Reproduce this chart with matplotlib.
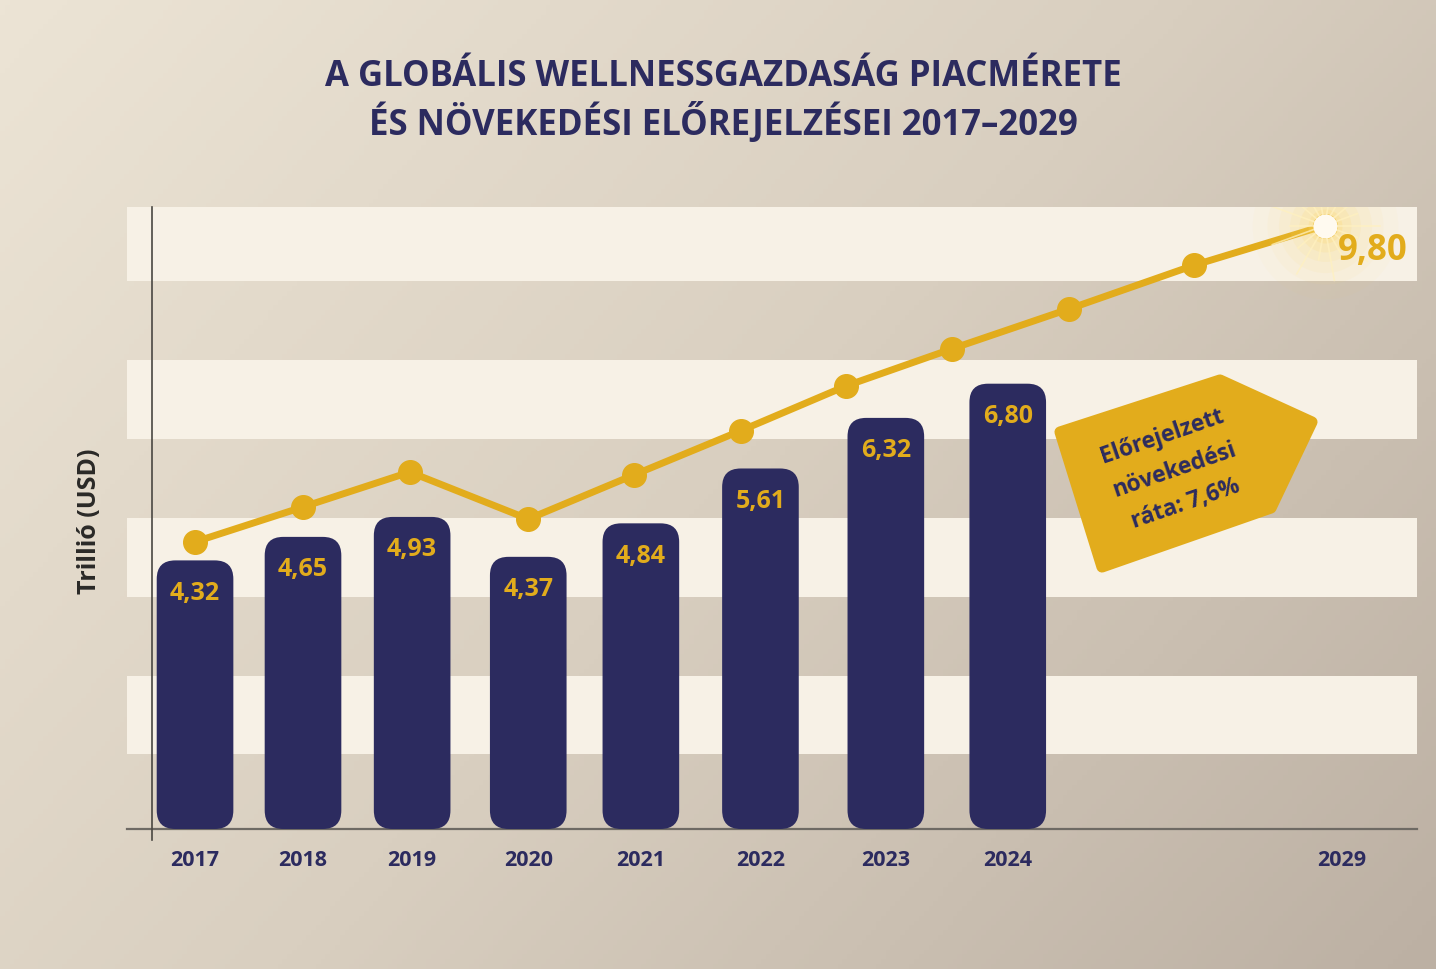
import numpy as np
import matplotlib.pyplot as plt
from matplotlib.patches import FancyBboxPatch, Polygon
from matplotlib.colors import LinearSegmentedColormap

plt.rcParams['font.family'] = ['Open Sans', 'DejaVu Sans']

# data
years = ["2017", "2018", "2019", "2020", "2021", "2022", "2023", "2024"]
bar_pos = [0, 0.93, 1.87, 2.87, 3.84, 4.87, 5.95, 7.0]
bar_vals = [4.32, 4.65, 4.93, 4.37, 4.84, 5.61, 6.32, 6.80]
bar_labels = ["4,32", "4,65", "4,93", "4,37", "4,84", "5,61", "6,32", "6,80"]

trend_x = [0, 0.93, 1.85, 2.87, 3.78, 4.70, 5.61, 6.52, 7.53, 8.60, 9.73]
trend_y = [4.58, 5.07, 5.56, 4.90, 5.52, 6.14, 6.77, 7.29, 7.85, 8.46, 9.02]
end_label = "9,80"
end_year = "2029"
end_pos = 9.88

navy = "#2c2b5f"
gold = "#e2ac1c"

fig = plt.figure(figsize=(14.36, 9.69), dpi=100)

# background gradient
bg = fig.add_axes([0, 0, 1, 1], zorder=-10)
gx, gy = np.meshgrid(np.linspace(0, 1, 300), np.linspace(0, 1, 200))
grad = 0.62 * gx + 0.38 * gy
bg_cmap = LinearSegmentedColormap.from_list("bg", ["#ece4d5", "#d9cfc0", "#bcb0a3"])
bg.imshow(grad, cmap=bg_cmap, aspect="auto", extent=[0, 1, 0, 1], origin="upper")
bg.axis("off")

y0, y1 = 0.55, 9.28
ax = fig.add_axes([127/1436, 1 - 829/969, 1290/1436, 622/969])
ax.patch.set_alpha(0)
ax.set_xlim(-0.586, 10.525)
ax.set_ylim(y0, y1)
for s in ax.spines.values():
    s.set_visible(False)


def py2d(py):
    return y0 + (829 - py) / 622 * (y1 - y0)


# cream stripes
for top, bot in [(207, 281), (360, 439), (518, 597), (676, 754)]:
    ax.axhspan(py2d(bot), py2d(top), color="#f7f1e6", zorder=0, lw=0)

# axes lines
ax.plot([-0.586, 10.525], [y0, y0], color="#6e6a64", lw=1.6, zorder=1, clip_on=False)
ax.plot([-0.37, -0.37], [py2d(840), y1], color="#4a4742", lw=1.2, zorder=1, clip_on=False)

# bars with rounded corners
w = 0.66
asp = (y1 - y0) / 622 / (11.111 / 1290)
for x, v, lab in zip(bar_pos, bar_vals, bar_labels):
    p = FancyBboxPatch((x - w / 2, y0), w, v - y0,
                       boxstyle="round,pad=0,rounding_size=0.16",
                       fc=navy, ec="none", zorder=3)
    p.set_mutation_aspect(asp)
    ax.add_patch(p)
    ax.text(x, v - 0.46, lab, ha="center", va="center", color=gold,
            fontsize=18, fontweight="bold", zorder=4)

# trend line
ax.plot(trend_x, trend_y, color=gold, lw=5, marker="o", markersize=17, zorder=5,
        solid_capstyle="round")

# glow at the end point
ex, ey = trend_x[-1], trend_y[-1]
for s, a in [(11000, 0.03), (7000, 0.05), (4500, 0.07), (2600, 0.1), (1400, 0.15), (600, 0.22), (300, 0.35)]:
    ax.scatter([ex], [ey], s=s, color="#ffd966", alpha=a, lw=0, zorder=6)
ang = np.linspace(0, 2 * np.pi, 18, endpoint=False)
for i, a in enumerate(ang):
    r = 0.3 if i % 2 else 0.48
    ax.plot([ex, ex + r * np.cos(a)], [ey, ey + r * np.sin(a) * asp],
            color="#fff1c0", lw=1.2, alpha=0.75, zorder=6)
ax.scatter([ex], [ey], s=300, color="#fffaf0", lw=0, zorder=7)
ax.text(10.14, py2d(251), end_label, ha="center", va="center", color=gold,
        fontsize=25, fontweight="bold", zorder=7)

# x tick labels
ax.set_xticks(bar_pos + [end_pos])
ax.set_xticklabels(years + [end_year], fontsize=15.5, fontweight="bold", color=navy)
ax.tick_params(axis="x", length=0, pad=15)
ax.set_yticks([])

fig.text(90 / 1436, 1 - 521 / 969, "Trillió (USD)", rotation=90, ha="center",
         va="center", fontsize=18, fontweight="bold", color="#2a2927")

# title
fig.text(723 / 1436, 1 - 77 / 969, "A GLOBÁLIS WELLNESSGAZDASÁG PIACMÉRETE",
         ha="center", va="center", fontsize=25, fontweight="bold", color=navy)
fig.text(723 / 1436, 1 - 123 / 969, "ÉS NÖVEKEDÉSI ELŐREJELZÉSEI 2017–2029",
         ha="center", va="center", fontsize=25, fontweight="bold", color=navy)

# forecast tag
tag_px = [(1060, 432), (1220, 380), (1312, 422), (1271, 508), (1102, 567)]
tag = Polygon([(x / 1436, 1 - y / 969) for x, y in tag_px], closed=True,
              transform=fig.transFigure, fc=gold, ec=gold, lw=8, joinstyle="round",
              zorder=8)
fig.add_artist(tag)
fig.text(1174 / 1436, 1 - 470 / 969, "Előrejelzett\nnövekedési\nráta: 7,6%",
         rotation=19, ha="center", va="center", rotation_mode="anchor",
         fontsize=16.5, fontweight="bold", color=navy, linespacing=1.65, zorder=9)

fig.savefig("out.png", dpi=100)
